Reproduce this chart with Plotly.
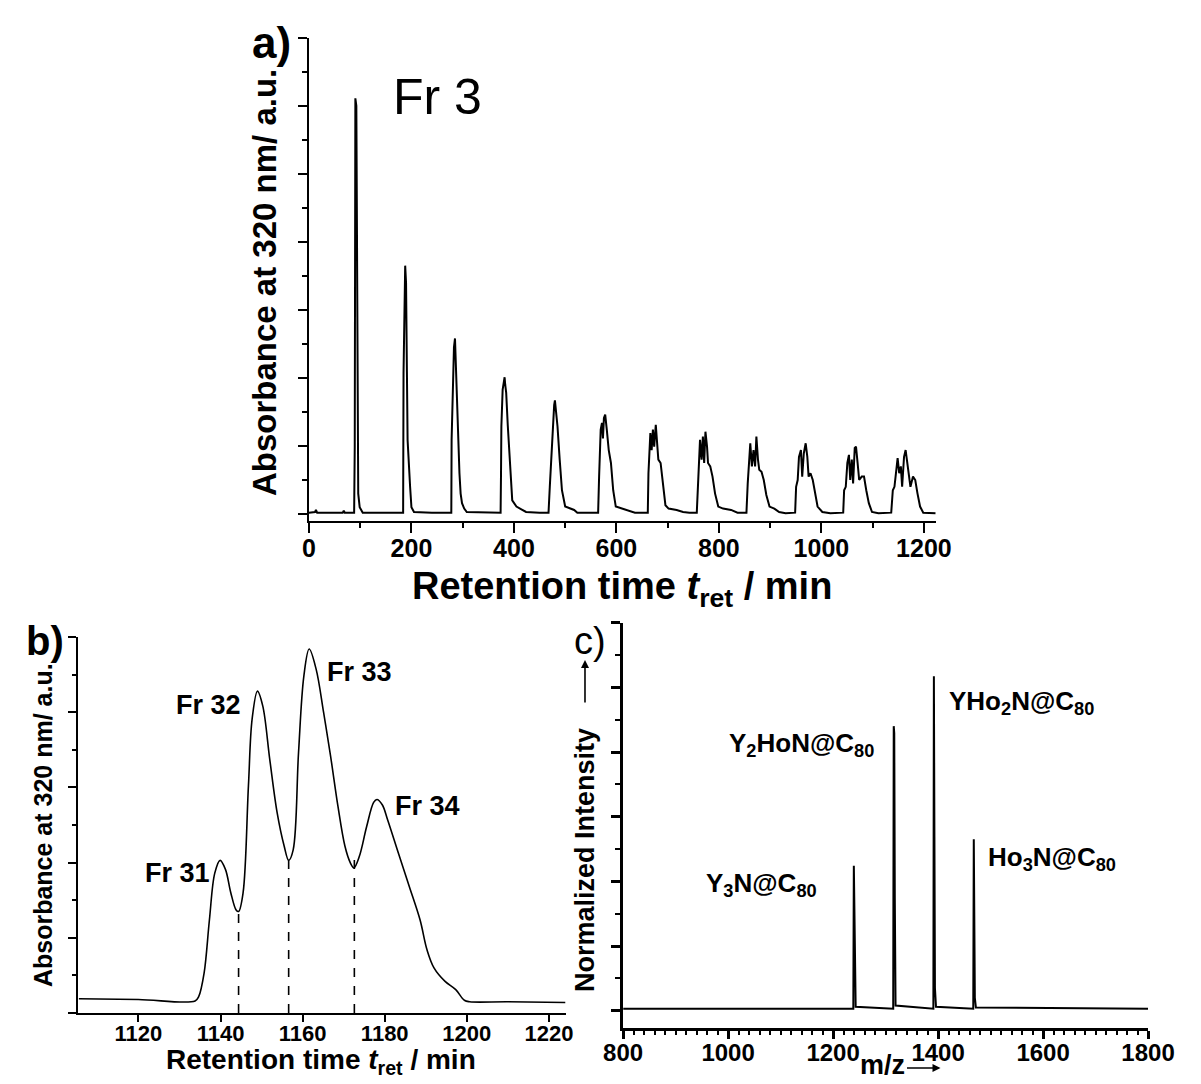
import plotly.graph_objects as go

W, H = 1201, 1084
FONT = "Liberation Sans, Arial, sans-serif"

# ---------------- Panel a: recycling HPLC chromatogram (Fr 3) ----------------
a_time = [
    0, 8, 12, 13.7, 16, 60, 66, 68, 70, 87.5,
    88.2, 89.4, 90.6, 92.5, 94.4, 95.2, 96.2, 99, 105, 140, 183.8,
    184.6, 186.5, 187.8, 189.5, 190.3, 191.2, 192.5, 195, 197.4, 200, 205, 240, 277.8,
    278.4, 280, 281.2, 283, 285, 286, 287.4, 289.3, 291.5, 293.7, 296, 298.7, 303, 308, 340, 374,
    374.8, 375.5, 378, 380, 381.8, 383, 384.9, 388, 391.1, 394, 396.7, 404.9, 415, 423.6, 450, 467.5,
    470, 472.5, 476.8, 478.5, 480, 481.5, 483.1, 485, 489.3, 493.7, 500, 517.5, 523.7, 564.3,
    566.2, 569.3, 571.8, 573.7, 575.6, 578.1, 581.2, 585, 589.3, 593.7, 598.7, 611.2, 623.7, 636.2, 661.2,
    662.5, 666.2, 668.7, 671.2, 673.7, 676.8, 679.3, 681.8, 686.2, 691.2, 695.6, 701.8, 717.5, 730, 742.5, 756.8,
    759.3, 763.1, 766.2, 768.7, 771.2, 773.7, 776.8, 778.7, 783.1, 787.5, 792.5, 798.7, 808.1, 823.7, 836.2, 853.7,
    856.2, 861.2, 864.3, 867.5, 870.6, 873.1, 876.2, 878.7, 883.1, 887.5, 892.5, 898.7, 908.1, 917.5, 930, 948.7,
    950.6, 953.7, 956.2, 960, 962.5, 965.6, 969.3, 972.5, 975, 978.7, 983.1, 987.5, 992.5, 1001.8, 1017.5, 1042.5,
    1044.3, 1047.5, 1050.6, 1053.7, 1056.2, 1059.3, 1061.8, 1065, 1067.5, 1070.6, 1073.7, 1078.7, 1083.1, 1087.5,
    1092.5, 1098.7, 1111.2, 1136.2,
    1139.3, 1142.5, 1145.6, 1148.7, 1151.8, 1155, 1157.5, 1161.2, 1164.3, 1167.5, 1170.6, 1173.7, 1178.7, 1183.1,
    1187.5, 1192.5, 1198.7, 1223,
]
a_abs = [
    0.02, 0.02, 0.03, 0.06, 0.02, 0.02, 0.02, 0.05, 0.02, 0.02,
    0.02, 1.0, 6.11, 6.0, 2.61, 2.5, 0.3, 0.1, 0.02, 0.02, 0.02,
    2.08, 3.3, 3.65, 3.4, 3.06, 2.08, 1.09, 0.6, 0.4, 0.1, 0.03, 0.02, 0.02,
    1.09, 1.6, 2.32, 2.45, 2.58, 2.3, 2.17, 1.68, 1.1, 0.6, 0.3, 0.16, 0.08, 0.03, 0.02, 0.02,
    0.6, 1.29, 1.83, 1.95, 2.01, 1.9, 1.78, 1.3, 0.84, 0.45, 0.2, 0.11, 0.06, 0.03, 0.02, 0.02,
    0.4, 0.8, 1.53, 1.6, 1.67, 1.55, 1.48, 1.29, 0.8, 0.35, 0.11, 0.06, 0.02, 0.02,
    0.55, 1.24, 1.34, 1.11, 1.41, 1.46, 1.24, 0.94, 0.75, 0.35, 0.11, 0.08, 0.05, 0.02, 0.02,
    0.6, 1.19, 0.94, 1.24, 0.99, 1.31, 1.04, 0.8, 0.75, 0.4, 0.13, 0.08, 0.06, 0.03, 0.02, 0.02,
    0.45, 1.09, 0.8, 1.14, 0.75, 1.21, 0.99, 0.75, 0.7, 0.55, 0.3, 0.11, 0.08, 0.06, 0.02, 0.02,
    0.45, 1.04, 0.7, 0.94, 0.7, 1.14, 0.8, 0.65, 0.62, 0.5, 0.28, 0.11, 0.08, 0.03, 0.01, 0.02,
    0.4, 0.5, 0.84, 0.94, 0.55, 0.89, 1.04, 0.84, 0.55, 0.6, 0.5, 0.3, 0.11, 0.03, 0.01, 0.02,
    0.35, 0.4, 0.75, 0.87, 0.5, 0.8, 0.45, 0.97, 0.99, 0.75, 0.5, 0.55, 0.55, 0.35,
    0.16, 0.03, 0.01, 0.02,
    0.35, 0.4, 0.6, 0.82, 0.6, 0.7, 0.4, 0.84, 0.94, 0.75, 0.5, 0.4, 0.55, 0.5,
    0.3, 0.11, 0.02, 0.01,
]
a_xticks = [0, 200, 400, 600, 800, 1000, 1200]

# ---------------- Panel b: last cycle, fractions 31-34 ----------------
b_time = [1105.5, 1120, 1133.8, 1134.7, 1136, 1137.3, 1138.6, 1139.9, 1141.2, 1142.5, 1143.8, 1144.4,
          1145.5, 1146.8, 1147.7, 1149, 1150.3, 1152, 1153.8, 1155.5, 1156.6, 1157.7, 1159, 1160.3,
          1161.6, 1163.3, 1165.1, 1166.8, 1168.6, 1170.3, 1171.6, 1172.5, 1173.8, 1175.6, 1177.3,
          1178.1, 1179.4, 1180.7, 1183.3, 1186, 1188.6, 1190.3, 1192, 1194.7, 1197.3, 1199.4, 1200.7,
          1210, 1224]
b_abs = [0.19, 0.18, 0.16, 0.22, 0.53, 1.24, 1.86, 2.03, 1.91, 1.60, 1.37, 1.35,
         1.60, 3.02, 3.91, 4.28, 4.08, 3.37, 2.66, 2.22, 2.03, 2.17, 3.46, 4.48,
         4.84, 4.57, 4.00, 3.42, 2.75, 2.22, 2.00, 1.93, 2.08, 2.48, 2.80,
         2.84, 2.77, 2.57, 2.13, 1.68, 1.24, 0.84, 0.60, 0.42, 0.31, 0.17, 0.15,
         0.15, 0.14]
b_cut_time = [1144.4, 1156.6, 1172.6]
b_cut_abs = [1.35, 2.03, 2.13]
b_labels = ["Fr 31", "Fr 32", "Fr 33", "Fr 34"]
b_label_time = [1129.6, 1137.1, 1173.9, 1190.3]
b_label_abs = [1.86, 4.10, 4.53, 2.75]
b_xticks = [1120, 1140, 1160, 1180, 1200, 1220]

# ---------------- Panel c: mass spectrum ----------------
c_mz = [800, 1238.5, 1239.5, 1240.5, 1241.5, 1243,
        1314.5, 1315.5, 1316.5, 1317.5, 1319,
        1391, 1392, 1393, 1394, 1396,
        1467, 1468, 1469, 1470, 1472, 1800]
c_int = [0.03, 0.03, 2.24, 1.65, 0.55, 0.06,
         0.03, 4.40, 4.29, 1.76, 0.08,
         0.03, 5.17, 2.69, 0.35, 0.06,
         0.03, 2.65, 1.03, 0.20, 0.05, 0.03]
c_labels = ["Y<sub>3</sub>N@C<sub>80</sub>", "Y<sub>2</sub>HoN@C<sub>80</sub>",
            "YHo<sub>2</sub>N@C<sub>80</sub>", "Ho<sub>3</sub>N@C<sub>80</sub>"]
c_label_mz = [954, 998, 1417, 1492]
c_label_int = [1.95, 4.11, 4.76, 2.36]
c_xticks = [800, 1000, 1200, 1400, 1600, 1800]


def px(p):
    return p / W


def py(p):
    return 1 - p / H


fig = go.Figure()
fig.add_trace(go.Scatter(x=a_time, y=a_abs, mode="lines", line=dict(color="black", width=2),
                         xaxis="x", yaxis="y", showlegend=False))
fig.add_trace(go.Scatter(x=b_time, y=b_abs, mode="lines", line=dict(color="black", width=1.6),
                         xaxis="x2", yaxis="y2", showlegend=False, line_shape="spline"))
cx, cy = [], []
for t, v in zip(b_cut_time, b_cut_abs):
    cx += [t, t, None]
    cy += [0, v, None]
fig.add_trace(go.Scatter(x=cx, y=cy, mode="lines", line=dict(color="black", width=1.6, dash="dash"),
                         xaxis="x2", yaxis="y2", showlegend=False))
fig.add_trace(go.Scatter(x=c_mz, y=c_int, mode="lines", line=dict(color="black", width=2),
                         xaxis="x3", yaxis="y3", showlegend=False))

tickfont = lambda s: dict(family=FONT, size=s, color="black", weight="bold")
common = dict(showgrid=False, zeroline=False, showline=True, linecolor="black", ticks="outside",
              tickcolor="black")

fig.update_layout(
    width=W, height=H, margin=dict(l=0, r=0, t=0, b=0),
    paper_bgcolor="white", plot_bgcolor="white", showlegend=False,
    xaxis=dict(domain=[px(300.7), px(953)], range=[0, 1223], tickvals=a_xticks, ticklen=10, tickwidth=2,
               linewidth=2, tickfont=tickfont(25), anchor="y", ticklabelstandoff=-6,
               minor=dict(dtick=100, tick0=0, ticklen=5, tickwidth=2, ticks="outside", tickcolor="black"),
               **common),
    yaxis=dict(domain=[py(520.7), py(37.7)], range=[-0.098, 7], dtick=1, tick0=0, ticklen=9, tickwidth=2,
               linewidth=2, showticklabels=False, anchor="x",
               minor=dict(dtick=0.5, tick0=0, ticklen=5, tickwidth=2, ticks="outside", tickcolor="black"),
               **common),
    xaxis2=dict(domain=[px(60), px(568)], range=[1105.2, 1224.1], tickvals=b_xticks, ticklen=7, tickwidth=2,
                linewidth=2, tickfont=tickfont(22), anchor="y2", ticklabelstandoff=-7, **common),
    yaxis2=dict(domain=[py(1013), py(637)], range=[0, 5], dtick=1, tick0=0, ticklen=8, tickwidth=2,
                linewidth=2, showticklabels=False, anchor="x2",
                minor=dict(dtick=0.5, tick0=0, ticklen=4, tickwidth=1.5, ticks="outside", tickcolor="black"),
                **common),
    xaxis3=dict(domain=[px(627.7), px(1174)], range=[800, 1800], tickvals=c_xticks, ticklen=8, tickwidth=2.5,
                linewidth=2.5, tickfont=tickfont(24), anchor="y3", ticklabelstandoff=-7,
                minor=dict(dtick=20, tick0=800, ticklen=4, tickwidth=2, ticks="outside", tickcolor="black"),
                **common),
    yaxis3=dict(domain=[py(1028), py(622.7)], range=[-0.2675, 6], dtick=1, tick0=0, ticklen=9, tickwidth=2.5,
                linewidth=2.5, showticklabels=False, anchor="x3",
                minor=dict(dtick=0.5, tick0=0, ticklen=5, tickwidth=2, ticks="outside", tickcolor="black"),
                **common),
)

ann = []


def text(x, y, s, size, bold=True, angle=0, xanchor="center", yanchor="middle", xref="paper", yref="paper"):
    ann.append(dict(x=x, y=y, xref=xref, yref=yref, text=s, showarrow=False, textangle=angle,
                    xanchor=xanchor, yanchor=yanchor,
                    font=dict(family=FONT, size=size, color="black", weight="bold" if bold else "normal")))


# panel a texts
text(px(262), py(42), "a)", 44)
text(px(435), py(97), "Fr 3", 50, bold=False)
text(px(254), py(283), "Absorbance at 320 nm/ a.u.", 33, angle=-90)
text(px(626), py(589), "Retention time <i>t</i><sub>ret</sub> / min", 38)

# panel b texts
text(px(26), py(641), "b)", 40)
text(px(24), py(825), "Absorbance at 320 nm/ a.u.", 25, angle=-90)
text(px(313), py(1061), "Retention time <i>t</i><sub>ret</sub> / min", 28)
for lab, t, v in zip(b_labels, b_label_time, b_label_abs):
    text(t, v, lab, 27, xref="x2", yref="y2")

# panel c texts
text(px(593), py(641), "c)", 38, bold=False)
text(px(588), py(860), "Normalized Intensity", 27, angle=-90)
text(px(898), py(1065), "m/z", 27)
for lab, m, v in zip(c_labels, c_label_mz, c_label_int):
    text(m, v, lab, 26, xanchor="left", xref="x3", yref="y3")

# arrows in panel c
ann.append(dict(x=px(588), y=py(660), xref="paper", yref="paper", ax=0, ay=44, showarrow=True,
                arrowhead=2, arrowsize=1, arrowwidth=1.6, arrowcolor="black", text=""))
ann.append(dict(x=px(958), y=py(1068), xref="paper", yref="paper", ax=-35, ay=0, showarrow=True,
                arrowhead=2, arrowsize=1, arrowwidth=1.6, arrowcolor="black", text=""))

fig.update_layout(annotations=ann)
fig.write_html("out.html")
